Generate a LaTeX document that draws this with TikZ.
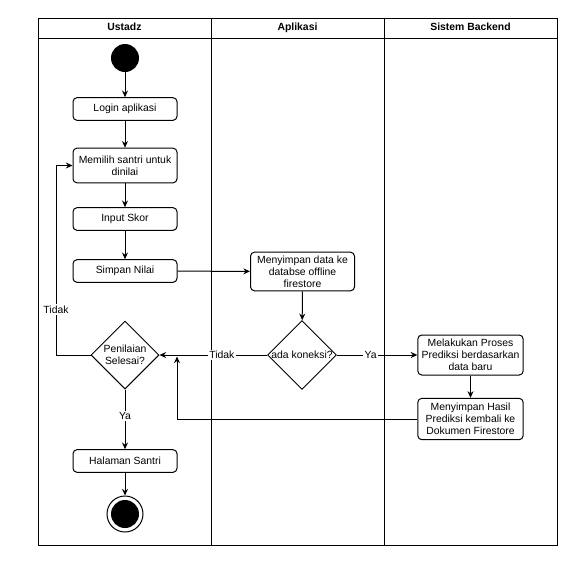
\documentclass[tikz,border=0pt]{standalone}
\usepackage{fontspec}
\setsansfont{Liberation Sans}
\usepackage{tikz}
\usetikzlibrary{arrows.meta,shapes.geometric}
\tikzset{
  lane/.style={draw=black, line width=0.75pt},
  head/.style={font=\sffamily\bfseries\fontsize{7.8}{9}\selectfont, text height=6pt, text depth=1.7pt},
  act/.style={draw=black, line width=0.75pt, rounded corners=3pt, align=center,
    minimum width=78pt, minimum height=17pt, inner sep=1pt,
    font=\sffamily\fontsize{7.8}{9}\selectfont},
  dec/.style={draw=black, line width=0.75pt, diamond, aspect=1, align=center,
    inner sep=0pt, minimum width=51pt, minimum height=51pt,
    font=\sffamily\fontsize{7.8}{9}\selectfont},
  flow/.style={draw=black, line width=0.75pt, -{Stealth[length=5pt,width=4.5pt]}},
  lab/.style={fill=white, inner sep=1pt, font=\sffamily\fontsize{7.8}{9}\selectfont},
}

\begin{document}
\begin{tikzpicture}[x=0.75pt, y=-0.75pt]
  \useasboundingbox (0,0) rectangle (579,562);
  % swimlanes
  \draw[lane] (38,18) rectangle (557,545);
  \draw[lane] (38,38) -- (557,38);
  \draw[lane] (211,18) -- (211,545);
  \draw[lane] (384,18) -- (384,545);
  \node[head] (hUstadz) at (124.5,28) {Ustadz};
  \node[head] (hAplikasi) at (297.5,28) {Aplikasi};
  \node[head] (hBackend) at (470.5,28) {Sistem Backend};

  % Ustadz
  \node[circle, fill=black, minimum size=21pt, inner sep=0pt] (start) at (125,58) {};
  \node[act] (login) at (125,109) {Login aplikasi};
  \node[act, minimum height=26pt] (pilih) at (125,165.5) {Memilih santri untuk\\dinilai};
  \node[act] (skor) at (125,219) {Input Skor};
  \node[act] (simpan) at (125,271) {Simpan Nilai};
  \node[dec] (selesai) at (125,355) {Penilaian\\Selesai?};
  \node[act] (halaman) at (125,461) {Halaman Santri};
  \node[circle, draw=black, line width=0.75pt, minimum size=27pt, inner sep=0pt] (end) at (125,514) {};
  \fill[black] (end.center) circle (10.5pt);

  % Aplikasi
  \node[act, minimum height=29pt] (lokal) at (302.5,271.5) {Menyimpan data ke\\databse offline\\firestore};
  \node[dec] (koneksi) at (302,355) {ada koneksi?};

  % Sistem Backend
  \node[act, minimum width=79pt, minimum height=30pt] (proses) at (470.5,355) {Melakukan Proses\\Prediksi berdasarkan\\data baru};
  \node[act, minimum width=79pt, minimum height=31pt] (hasil) at (470.5,419) {Menyimpan Hasil\\Prediksi kembali ke\\Dokumen Firestore};
  \coordinate (balik) at (177,356.5);

  % connectors
  \draw[flow] (start) -- (login);
  \draw[flow] (login) -- (pilih);
  \draw[flow] (pilih) -- (skor);
  \draw[flow] (skor) -- (simpan);
  \draw[flow] (simpan) -- (lokal);
  \draw[flow] (lokal) -- (koneksi);
  \draw[flow] (koneksi) -- node[lab, pos=0.42] {Tidak} (selesai);
  \draw[flow] (koneksi) -- node[lab, pos=0.42] {Ya} (proses);
  \draw[flow] (proses) -- (hasil);
  \draw[flow] (hasil.west) -| (balik);
  \draw[flow] (selesai.west) -- (56,355) |- node[lab, pos=0.12] {Tidak} (pilih.west);
  \draw[flow] (selesai) -- node[lab, pos=0.45] {Ya} (halaman);
  \draw[flow] (halaman) -- (end);
\end{tikzpicture}
\end{document}
